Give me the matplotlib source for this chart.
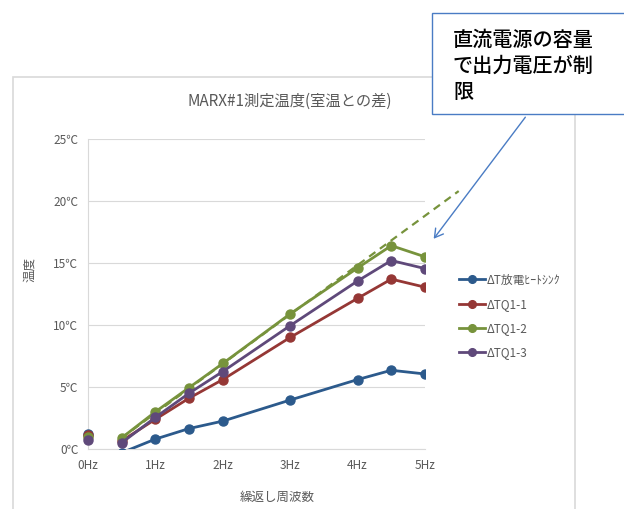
import matplotlib
matplotlib.use("Agg")
import matplotlib.pyplot as plt
from matplotlib.patches import Rectangle, FancyArrowPatch
import numpy as np

plt.rcParams['font.family'] = ['Noto Sans CJK JP', 'DejaVu Sans']

# データ (周波数 Hz)
freq = [0, 0.5, 1, 1.5, 2, 3, 4, 4.5, 5]
dt_heatsink = [1.25, -0.3, 0.8, 1.65, 2.25, 3.95, 5.6, 6.35, 6.05]
dt_q1_1 = [1.1, 0.65, 2.4, 4.1, 5.6, 9.0, 12.15, 13.7, 13.05]
dt_q1_2 = [0.95, 0.9, 3.0, 4.95, 6.9, 10.9, 14.6, 16.4, 15.5]
dt_q1_3 = [0.7, 0.5, 2.55, 4.5, 6.25, 9.95, 13.55, 15.2, 14.55]

series_names = ['ΔT放電ﾋｰﾄｼﾝｸ', 'ΔTQ1-1', 'ΔTQ1-2', 'ΔTQ1-3']
series_colors = ['#2C5A8C', '#953735', '#77933C', '#5F497A']

# 近似直線 (ΔTQ1-2)
trend_x = [0.5, 5.5]
trend_y = [0.9, 20.8]

y_ticks = [0, 5, 10, 15, 20, 25]
x_ticks = [0, 1, 2, 3, 4, 5]

W, H = 624, 509
fig = plt.figure(figsize=(W / 100, H / 100), dpi=100)

def fx(px):
    return px / W

def fy(py):
    return 1 - py / H

# グラフ枠
fig.patches.append(Rectangle((fx(13), -0.05), fx(575 - 13), fy(77) + 0.05,
                             transform=fig.transFigure, facecolor='none',
                             edgecolor='#D9D9D9', lw=1.2, zorder=-1))

ax = fig.add_axes([fx(88), fy(449), fx(425 - 88), fy(139) - fy(449)])
ax.set_facecolor('none')

all_series = [dt_heatsink, dt_q1_1, dt_q1_2, dt_q1_3]
for vals, name, col in zip(all_series, series_names, series_colors):
    ax.plot(freq[1:], vals[1:], color=col, lw=2, marker='o', ms=6.5, label=name, zorder=3)
    ax.plot(freq[:1], vals[:1], color=col, lw=0, marker='o', ms=6.5, zorder=3, clip_on=False)

ax.plot(trend_x, trend_y, color='#77933C', lw=1.6, ls=(0, (3.5, 2.5)), clip_on=False, zorder=2)

ax.set_xlim(0, 5)
ax.set_ylim(0, 25)
ax.set_xticks(x_ticks)
ax.set_xticklabels([f'{v}Hz' for v in x_ticks])
ax.set_yticks(y_ticks)
ax.set_yticklabels([f'{v}℃' for v in y_ticks])
ax.tick_params(length=0, labelsize=8.5, labelcolor='#595959', pad=7)
ax.grid(axis='y', color='#D9D9D9', lw=0.8)
ax.set_axisbelow(True)
for s in ['top', 'right']:
    ax.spines[s].set_visible(False)
for s in ['left', 'bottom']:
    ax.spines[s].set_color('#D9D9D9')

fig.text(fx(290), fy(101), 'MARX#1測定温度(室温との差)', ha='center', va='center',
         fontsize=11, color='#595959')
fig.text(fx(30), fy(270), '温度', ha='center', va='center', rotation=90,
         fontsize=9, color='#595959')
fig.text(fx(277), fy(497), '繰返し周波数', ha='center', va='center',
         fontsize=9, color='#595959')

leg = ax.legend(loc='upper left', bbox_to_anchor=(fx(448), fy(263)),
                bbox_transform=fig.transFigure, frameon=False, fontsize=8.5,
                handlelength=2.2, handletextpad=0.2, labelspacing=0.95,
                markerscale=0.85)
for t in leg.get_texts():
    t.set_color('#595959')

# 吹き出し
fig.patches.append(Rectangle((fx(432), fy(114)), fx(200), fy(13) - fy(114),
                             transform=fig.transFigure, facecolor='white',
                             edgecolor='#4A7CC4', lw=1.0, zorder=5))
fig.text(fx(453), fy(66), '直流電源の容量\nで出力電圧が制\n限', ha='left', va='center',
         fontsize=14.5, color='black', linespacing=1.45, fontweight='medium', zorder=6)
fig.patches.append(FancyArrowPatch((fx(527), fy(115)), (fx(432), fy(241)),
                                   transform=fig.transFigure, arrowstyle='->,head_length=6,head_width=3.5',
                                   color='#4A7CC4', lw=1.0, zorder=6))

fig.savefig('out.png', dpi=100)
